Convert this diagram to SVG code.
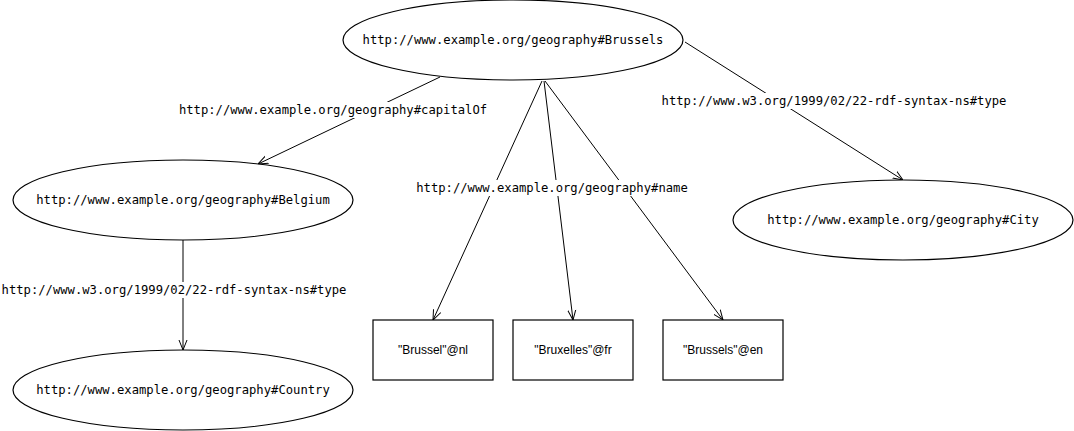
<svg xmlns="http://www.w3.org/2000/svg" width="1074" height="431" viewBox="0 0 1074 431">
<style>
.n{fill:#fff;stroke:#000;stroke-width:1.2}
.t{font-family:"DejaVu Sans Mono","Liberation Mono",monospace;font-size:12.2px;fill:#000;text-anchor:middle;dominant-baseline:central}
.l{font-family:"Liberation Sans",Arial,sans-serif;font-size:12px;fill:#000;text-anchor:middle;dominant-baseline:central}
.e{stroke:#000;stroke-width:1;fill:none;marker-end:url(#a)}
.bg{fill:#fff}
</style>
<defs>
<marker id="a" viewBox="0 0 10 10" refX="10" refY="5" markerWidth="10" markerHeight="10" markerUnits="userSpaceOnUse" orient="auto">
<path d="M0,1 L10,5 L0,9" fill="none" stroke="#000" stroke-width="1"/>
</marker>
</defs>
<g id="connectors">
<line class="e" x1="440" y1="77" x2="258" y2="164"/>
<line class="e" x1="542" y1="81" x2="433" y2="320"/>
<line class="e" x1="544" y1="81" x2="573" y2="320"/>
<line class="e" x1="545" y1="81" x2="723" y2="320"/>
<line class="e" x1="685" y1="42" x2="903" y2="180"/>
<line class="e" x1="183" y1="240" x2="183" y2="350"/>
<rect class="bg" x="178" y="102" width="310" height="16"/>
<text class="t" x="333" y="110">http://www.example.org/geography#capitalOf</text>
<rect class="bg" x="416" y="180" width="272" height="16"/>
<text class="t" x="552" y="188">http://www.example.org/geography#name</text>
<rect class="bg" x="660" y="93" width="348" height="16"/>
<text class="t" x="834" y="101">http://www.w3.org/1999/02/22-rdf-syntax-ns#type</text>
<rect class="bg" x="0" y="282" width="348" height="16"/>
<text class="t" x="174" y="290">http://www.w3.org/1999/02/22-rdf-syntax-ns#type</text>
</g>
<g id="brussels">
<ellipse class="n" cx="513" cy="40" rx="170" ry="40"/>
<text class="t" x="513" y="40">http://www.example.org/geography#Brussels</text>
</g>
<g id="belgium">
<ellipse class="n" cx="183" cy="200" rx="170" ry="40"/>
<text class="t" x="183" y="200">http://www.example.org/geography#Belgium</text>
</g>
<g id="country">
<ellipse class="n" cx="183" cy="390" rx="170" ry="40"/>
<text class="t" x="183" y="390">http://www.example.org/geography#Country</text>
</g>
<g id="city">
<ellipse class="n" cx="903" cy="220" rx="170" ry="40"/>
<text class="t" x="903" y="220">http://www.example.org/geography#City</text>
</g>
<g id="lit-nl">
<rect class="n" x="373" y="320" width="120" height="60"/>
<text class="l" x="433" y="350">"Brussel"@nl</text>
</g>
<g id="lit-fr">
<rect class="n" x="513" y="320" width="120" height="60"/>
<text class="l" x="573" y="350">"Bruxelles"@fr</text>
</g>
<g id="lit-en">
<rect class="n" x="663" y="320" width="120" height="60"/>
<text class="l" x="723" y="350">"Brussels"@en</text>
</g>
</svg>
